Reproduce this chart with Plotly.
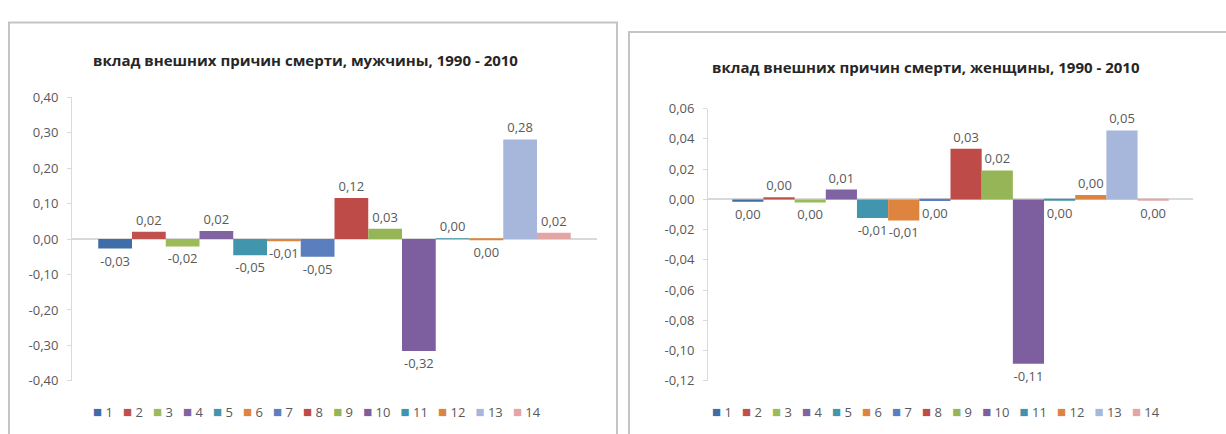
import plotly.graph_objects as go

# Cause-of-death groups (series) and their colours
series_names = ["1", "2", "3", "4", "5", "6", "7", "8", "9", "10", "11", "12", "13", "14"]
series_colors = ["#3F6DA7", "#C0504D", "#9BBB59", "#8064A2", "#4196AE", "#DE843E", "#5A7EBE",
                 "#BE4B48", "#96B556", "#7D5FA0", "#3F93AD", "#DE843E", "#A6B7DB", "#E3A6A4"]

# Contribution of external causes of death, 1990 - 2010
men_values = [-0.027, 0.0205, -0.021, 0.023, -0.046, -0.006, -0.05,
              0.116, 0.029, -0.316, 0.002, -0.002, 0.281, 0.018]
women_values = [-0.0015, 0.0015, -0.002, 0.0065, -0.0122, -0.0139, -0.001,
                0.0335, 0.0192, -0.1087, -0.0003, 0.003, 0.0456, -0.0003]

men_title = "вклад внешних причин смерти, мужчины, 1990 - 2010"
women_title = "вклад внешних причин смерти, женщины, 1990 - 2010"

men_ticks = [0.40, 0.30, 0.20, 0.10, 0.00, -0.10, -0.20, -0.30, -0.40]
women_ticks = [0.06, 0.04, 0.02, 0.00, -0.02, -0.04, -0.06, -0.08, -0.10, -0.12]

TEXT = "#595959"
FONT = "Open Sans"


def fmt(v):
    s = f"{v:.2f}".replace(".", ",")
    return "0,00" if s == "-0,00" else s


fig = go.Figure()

for xa, ya, vals in (("x", "y", men_values), ("x2", "y2", women_values)):
    for name, color, v in zip(series_names, series_colors, vals):
        fig.add_trace(go.Bar(
            x=[0], y=[v], name=name, xaxis=xa, yaxis=ya,
            marker=dict(color=color, line=dict(width=0)),
            text=[fmt(v)], texttemplate="%{text}", textposition="outside",
            textfont=dict(family=FONT, size=13, color=TEXT),
            constraintext="none", cliponaxis=False, showlegend=False,
        ))


def yaxis_style(ticks, rng, domain):
    return dict(
        range=rng, domain=domain, tickmode="array", tickvals=ticks,
        ticktext=[fmt(t) for t in ticks],
        showgrid=False, showline=True, linecolor="#D9D9D9", linewidth=1,
        ticks="outside", ticklen=4, tickcolor="#D9D9D9",
        tickfont=dict(family=FONT, size=13, color=TEXT),
        zeroline=True, zerolinecolor="#D9D9D9", zerolinewidth=2,
        ticklabelstandoff=6, fixedrange=True,
    )


def xaxis_style(domain, anchor):
    return dict(domain=domain, anchor=anchor, range=[-0.5, 0.5], showticklabels=False,
                showgrid=False, zeroline=False, showline=False, ticks="")


fig.update_layout(
    width=1226, height=434, autosize=False,
    margin=dict(l=0, r=0, t=0, b=0),
    paper_bgcolor="white", plot_bgcolor="white",
    barmode="group", bargap=0.1, bargroupgap=0,
    xaxis=xaxis_style([72 / 1226, 597 / 1226], "y"),
    yaxis=yaxis_style(men_ticks, [-0.4, 0.4], [1 - 388 / 434, 1 - 92 / 434]) | dict(anchor="x"),
    xaxis2=xaxis_style([708 / 1226, 1193 / 1226], "y2"),
    yaxis2=yaxis_style(women_ticks, [-0.12, 0.06], [1 - 388 / 434, 1 - 104 / 434]) | dict(anchor="x2"),
    showlegend=False,
)

# Chart frames
fig.add_shape(type="rect", xref="paper", yref="paper",
              x0=9 / 1226, x1=617 / 1226, y0=-0.1, y1=1 - 14 / 434,
              line=dict(color="#C4C4C4", width=2), fillcolor="rgba(0,0,0,0)", layer="below")
fig.add_shape(type="rect", xref="paper", yref="paper",
              x0=629 / 1226, x1=1.1, y0=-0.1, y1=1 - 24 / 434,
              line=dict(color="#C4C4C4", width=2), fillcolor="rgba(0,0,0,0)", layer="below")

# Titles
for title, xc, yc in ((men_title, 305, 53), (women_title, 926, 61)):
    fig.add_annotation(text=f"<b>{title}</b>", xref="paper", yref="paper",
                       x=xc / 1226, y=1 - yc / 434, showarrow=False,
                       xanchor="center", yanchor="middle",
                       font=dict(family=FONT, size=15, color="#262626"))

# Compact legends below each chart
legend_text = "\u00a0\u00a0\u00a0".join(
    f"<span style='color:{c};font-size:15px'>■</span>\u00a0{n}"
    for n, c in zip(series_names, series_colors)
)
for xc in (317, 936):
    fig.add_annotation(text=legend_text, xref="paper", yref="paper",
                       x=xc / 1226, y=1 - 419 / 434, showarrow=False,
                       xanchor="center", yanchor="middle",
                       font=dict(family=FONT, size=13, color=TEXT))

fig.write_html("out.html")
